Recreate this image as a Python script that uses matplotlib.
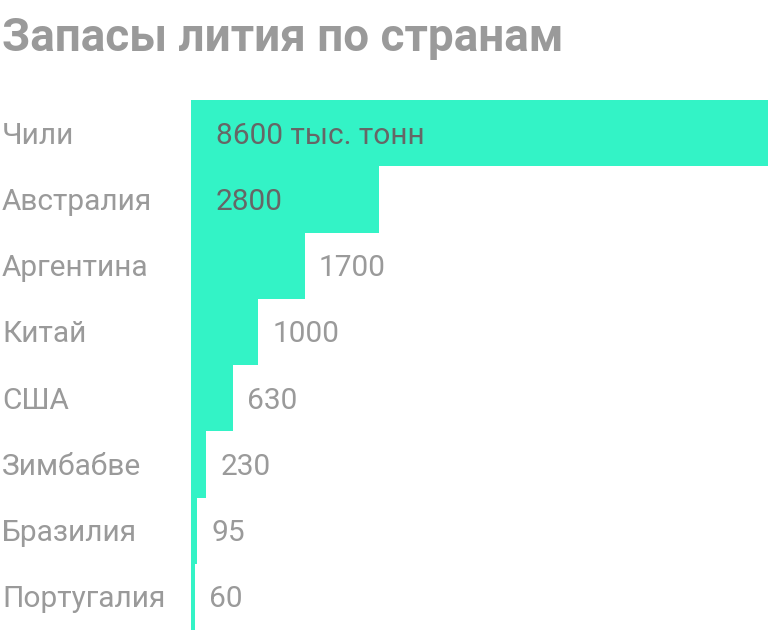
import matplotlib
matplotlib.use("Agg")
import matplotlib.pyplot as plt

countries = ["Чили", "Австралия", "Аргентина", "Китай", "США", "Зимбабве", "Бразилия", "Португалия"]
values = [8600, 2800, 1700, 1000, 630, 230, 95, 60]
value_labels = ["8600 тыс. тонн", "2800", "1700", "1000", "630", "230", "95", "60"]
inside = [True, True, False, False, False, False, False, False]

BAR = "#33F3C6"
GREY = "#9a9a9a"
DARK = "#666666"
FONT = ["Roboto", "DejaVu Sans"]

fig = plt.figure(figsize=(7.68, 6.30), dpi=100)
ax = fig.add_axes([191/768, 0, 1 - 191/768, 530/630])
n = len(countries)
ypos = list(range(n))
ax.barh(ypos, values, height=1.0, color=BAR, align="center")
ax.set_xlim(0, 8600)
ax.set_ylim(n - 0.5, -0.5)
ax.axis("off")

dy = -2.5 * 0.72
for i, (v, lab, ins) in enumerate(zip(values, value_labels, inside)):
    if ins:
        ax.annotate(lab, (0, i), xytext=(25 * 0.72, dy), textcoords="offset points",
                    va="center", ha="left", fontsize=21.5, color=DARK,
                    family=FONT, fontweight="normal")
    else:
        ax.annotate(lab, (v, i), xytext=(14 * 0.72, dy), textcoords="offset points",
                    va="center", ha="left", fontsize=21.5, color=GREY,
                    family=FONT, fontweight="normal")

for i, c in enumerate(countries):
    y_fig = (630 - 100 - (i + 0.5) * 530 / n - 2.5) / 630
    fig.text(2/768, y_fig, c, ha="left", va="center", fontsize=21.5, color=GREY,
             family=FONT, fontweight="normal")

fig.text(2/768, 1 - 38/630, "Запасы лития по странам", ha="left", va="center",
         fontsize=33, fontweight="bold", color=GREY, family=FONT)

fig.savefig("out.png", dpi=100)
